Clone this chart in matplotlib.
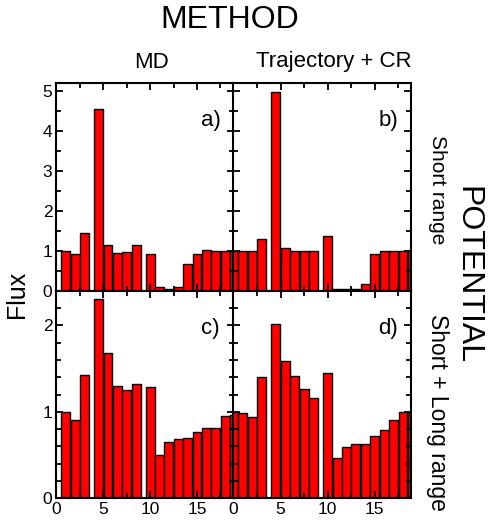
import matplotlib.pyplot as plt
from matplotlib.ticker import MultipleLocator

plt.rcParams['font.family'] = ['Liberation Sans', 'DejaVu Sans']

# bin positions (same for every panel)
x_pos = [0, 1, 2, 3, 4.5, 5.5, 6.5, 7.5, 8.5, 10, 11, 12, 13, 14, 15, 16, 17, 18, 19]

# a) MD, short range
flux_a = [0.0, 1.0, 0.92, 1.45, 4.55, 1.14, 0.94, 0.98, 1.14, 0.93, 0.10, 0.04,
          0.09, 0.68, 0.93, 1.03, 0.99, 0.99, 0.99]
# b) Trajectory + CR, short range
flux_b = [1.0, 1.0, 1.0, 1.29, 4.97, 1.08, 1.0, 1.0, 1.0, 1.36, 0.05, 0.05,
          0.05, 0.18, 0.91, 1.0, 1.0, 1.0, 1.0]
# c) MD, short + long range
flux_c = [0.0, 1.0, 0.90, 1.43, 2.30, 1.68, 1.30, 1.25, 1.32, 1.29, 0.50, 0.65,
          0.69, 0.70, 0.77, 0.81, 0.81, 0.95, 0.96]
# d) Trajectory + CR, short + long range
flux_d = [1.0, 0.99, 0.94, 1.40, 2.01, 1.59, 1.41, 1.26, 1.16, 1.45, 0.47, 0.59,
          0.63, 0.63, 0.72, 0.79, 0.91, 1.0, 1.0]

W, H = 489, 524
fig = plt.figure(figsize=(W / 100, H / 100), dpi=100)

x0, xm, x1 = 56.5, 233.5, 411.5
y0, ym, y1 = 83, 290.7, 498.3


def make_ax(left, right, top, bottom):
    return fig.add_axes([left / W, 1 - bottom / H, (right - left) / W, (bottom - top) / H])


panels = [
    (make_ax(x0, xm, y0, ym), flux_a, "a)", 5.2, 1, 0.5, True, False),
    (make_ax(xm, x1, y0, ym), flux_b, "b)", 5.2, 1, 0.5, False, False),
    (make_ax(x0, xm, ym, y1), flux_c, "c)", 2.4, 1, 0.2, True, True),
    (make_ax(xm, x1, ym, y1), flux_d, "d)", 2.4, 1, 0.2, False, True),
]

for ax, vals, lab, ytop, ymaj, ymin, show_y, show_x in panels:
    ax.bar(x_pos, vals, width=0.95, color='#ff0000', edgecolor='black', linewidth=1.0)
    ax.set_xlim(0, 18.9)
    ax.set_ylim(0, ytop)
    ax.xaxis.set_major_locator(MultipleLocator(5))
    ax.xaxis.set_minor_locator(MultipleLocator(2.5))
    ax.yaxis.set_major_locator(MultipleLocator(ymaj))
    ax.yaxis.set_minor_locator(MultipleLocator(ymin))
    ax.tick_params(which='both', direction='in', top=True, right=True, width=1.3,
                   labelsize=12.5, pad=3)
    ax.tick_params(which='major', length=5)
    ax.tick_params(which='minor', length=3.5)
    ax.tick_params(labelleft=show_y, labelbottom=show_x)
    for s in ax.spines.values():
        s.set_linewidth(1.5)
    ax.text(0.87, 0.82, lab, transform=ax.transAxes, fontsize=16, ha='center', va='center')

fig.text(230 / W, 1 - 20 / H, "METHOD", fontsize=23, ha='center', va='center')
fig.text(152 / W, 1 - 62 / H, "MD", fontsize=16, ha='center', va='center')
fig.text(334 / W, 1 - 62 / H, "Trajectory + CR", fontsize=16, ha='center', va='center')
fig.text(17 / W, 1 - 294 / H, "Flux", fontsize=18, rotation=90, ha='center', va='center')
fig.text(467 / W, 1 - 275 / H, "POTENTIAL", fontsize=23, rotation=-90, ha='center', va='center')
fig.text(438 / W, 1 - 190 / H, "Short range", fontsize=15, rotation=-90, ha='center', va='center')
fig.text(438 / W, 1 - 412 / H, "Short + Long range", fontsize=16.5, rotation=-90,
         ha='center', va='center')

fig.savefig("out.png", dpi=100)
